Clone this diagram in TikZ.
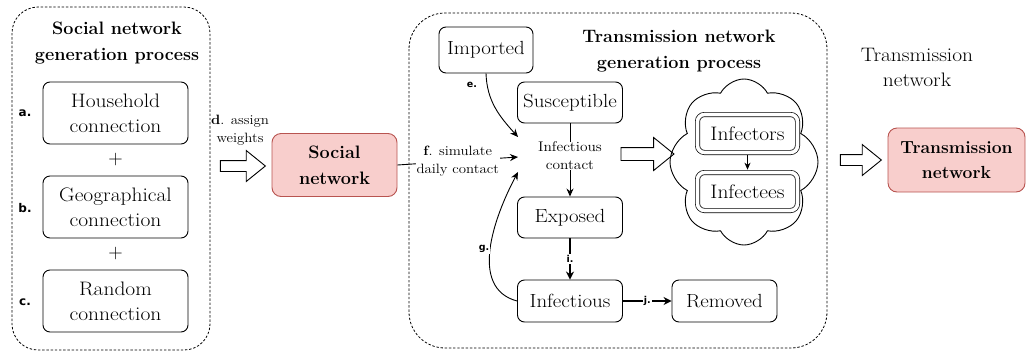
\documentclass[tikz,border=0pt]{standalone}
\usepackage{fontspec}
\newfontfamily\tagfont{DejaVu Sans}
\newfontfamily\boxfont{Latin Modern Roman}[FakeStretch=1.1]
\usetikzlibrary{shapes.symbols,shapes.arrows,arrows.meta}
\definecolor{pinkfill}{HTML}{F8CECC}
\definecolor{pinkline}{HTML}{B85450}

\begin{document}
\begin{tikzpicture}[x=1pt,y=-1pt,
  box/.style={draw, rounded corners=7pt, line width=0.9pt, align=center,
    inner sep=0pt, font=\boxfont\fontsize{19}{24}\selectfont},
  leftbox/.style={box, minimum width=145pt, minimum height=62pt,
    font=\boxfont\fontsize{19.5}{25}\selectfont},
  statebox/.style={box, minimum width=105pt, minimum height=41pt},
  dblbox/.style={box, double, double distance=3.6pt, line width=0.7pt,
    minimum width=100pt, minimum height=38pt, font=\boxfont\fontsize{19.5}{24}\selectfont},
  netbox/.style={draw=pinkline, fill=pinkfill, rounded corners=9pt,
    line width=0.9pt, align=center, inner sep=0pt,
    font=\fontsize{18}{26}\selectfont\bfseries},
  frame/.style={draw, dash pattern=on 2.4pt off 1.8pt, line width=0.8pt},
  heading/.style={align=center, inner sep=0pt,
    font=\fontsize{18}{26}\selectfont\bfseries},
  tag/.style={inner sep=0pt, font=\tagfont\fontsize{12}{14}\selectfont\bfseries},
  smalltag/.style={inner sep=1pt, fill=white, font=\tagfont\fontsize{9.5}{11}\selectfont\bfseries},
  note/.style={align=center, inner sep=0pt, font=\boxfont\fontsize{13.5}{17.5}\selectfont},
  blockarrow/.style={draw, single arrow, line width=0.9pt, fill=white,
    inner sep=0pt, single arrow head extend=10pt, single arrow tip angle=78},
  flow/.style={-{Stealth[length=8pt,width=7pt]}, line width=0.9pt},
  thickflow/.style={-{Stealth[length=8pt,width=8pt]}, line width=2pt},
]
\useasboundingbox (0,0) rectangle (1026,354);

% ---- social network generation process ----
\draw[frame, rounded corners=26pt] (12,7) rectangle (210,350);
\node[heading] (lefttitle) at (117,43) {Social network\\generation process};

\node[leftbox] (hh)  at (115.5,113) {Household\\connection};
\node[leftbox] (geo) at (115.5,207) {Geographical\\connection};
\node[leftbox] (rnd) at (115.5,301) {Random\\connection};
\node[font=\fontsize{20}{24}\selectfont] (plus1) at (115.5,160) {+};
\node[font=\fontsize{20}{24}\selectfont] (plus2) at (115.5,254) {+};
\node[tag] (ta) at (25,113) {a.};
\node[tag] (tb) at (25,208) {b.};
\node[tag] (tc) at (25,302) {c.};

% ---- assign weights ----
\node[note] (dlab) at (240,130) {\textbf{d}. assign\\weights};
\node[blockarrow, minimum height=45pt] (arrd) at (239.5,166) {\rule{0pt}{10pt}};

\node[netbox, minimum width=125pt, minimum height=63pt] (soc) at (334.5,165) {Social\\network};

% ---- transmission network generation process ----
\draw[frame, rounded corners=36pt] (409,13) rectangle (827,348);
\node[heading] (midtitle) at (679,51) {Transmission network\\generation process};

\node[statebox, minimum width=94pt, minimum height=46pt] (imp) at (486,50) {Imported};
\node[statebox] (sus) at (570,102.5) {Susceptible};
\node[note, font=\boxfont\fontsize{14}{18}\selectfont] (contact) at (570,156) {Infectious\\contact};
\node[statebox] (exp) at (570,217.5) {Exposed};
\node[statebox, minimum height=42pt] (inf) at (570,301) {Infectious};
\node[statebox, minimum height=42pt] (rem) at (724.5,301) {Removed};

\coordinate (te) at (518,137);
\coordinate (tf) at (518,157);
\coordinate (tg) at (518,172);

\draw[line width=0.9pt] (sus.south) -- (contact.north);
\draw[flow] (contact.south) -- (exp.north);
\draw[thickflow] (exp.south) -- node[smalltag] (ti) {i.} (inf.north);
\draw[thickflow] (inf.east) -- node[smalltag] (tj) {j.} (rem.west);

\draw[flow] (imp.south) to[out=-88,in=132] (te);
\node[smalltag] (tge) at (472,85) {e.};
\draw[flow] (inf.west) to[out=165,in=-118] (tg);
\node[smalltag] (tgg) at (484,249) {g.};

\draw[flow] (soc.east) -- node[note, fill=white, inner sep=1pt] (flab)
  {\textbf{f}. simulate\\daily contact} (tf);

% ---- infection cloud ----
\node[blockarrow, minimum height=53pt] (arrc) at (643.5,154) {\rule{0pt}{12pt}};
\node[draw, cloud, cloud puffs=8, cloud puff arc=125, cloud ignores aspect,
  line width=0.9pt, minimum width=148pt, minimum height=166pt] (cloud) at (744,162) {};
\node[dblbox] (infr) at (747.5,133.5) {Infectors};
\node[dblbox] (infe) at (747.5,191.5) {Infectees};
\draw[-{Stealth[length=7pt,width=6pt]}, line width=0.9pt,
  shorten <=2.5pt, shorten >=2.5pt] (infr.south) -- (infe.north);

% ---- result ----
\node[blockarrow, minimum height=41pt] (arrt) at (857.5,160) {\rule{0pt}{10pt}};
\node[align=center, inner sep=0pt, font=\boxfont\fontsize{19.5}{25}\selectfont] (tnlab) at (917,67) {Transmission\\network};
\node[netbox, minimum width=137pt, minimum height=64pt, font=\fontsize{17.5}{25}\selectfont\bfseries] (tn) at (956.5,160) {Transmission\\network};
\end{tikzpicture}
\end{document}
